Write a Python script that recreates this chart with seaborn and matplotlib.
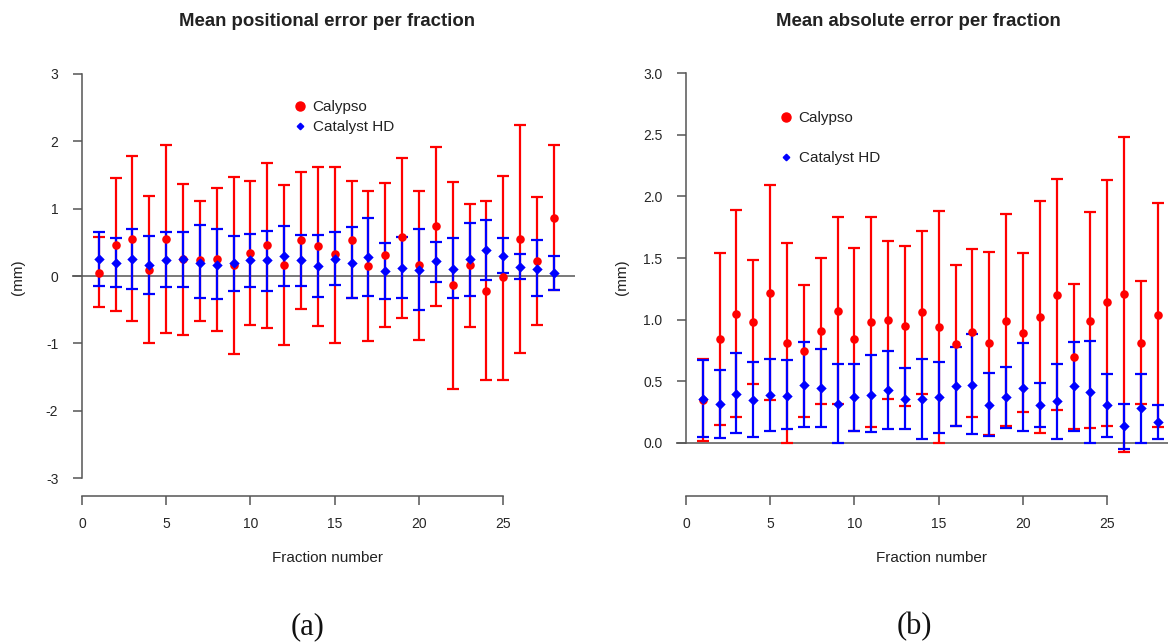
import numpy as np
import pandas as pd
import matplotlib
matplotlib.use("Agg")
import matplotlib.pyplot as plt
from matplotlib.lines import Line2D
import seaborn as sns

# ---------------- data ----------------
fractions = list(range(1, 29))
devices = ["Calypso", "Catalyst HD"]

# (a) mean positional error per fraction (mm)
cal_mean_a = [0.05, 0.46, 0.55, 0.09, 0.55, 0.25, 0.23, 0.245, 0.16, 0.34, 0.46, 0.17, 0.53, 0.44,
              0.32, 0.54, 0.15, 0.31, 0.58, 0.16, 0.74, -0.14, 0.16, -0.22, -0.02, 0.55, 0.22, 0.86]
cal_hi_a = [0.58, 1.45, 1.78, 1.19, 1.95, 1.37, 1.12, 1.30, 1.47, 1.41, 1.68, 1.35, 1.55, 1.61,
            1.61, 1.41, 1.26, 1.38, 1.75, 1.26, 1.91, 1.40, 1.07, 1.11, 1.49, 2.24, 1.17, 1.95]
cal_lo_a = [-0.46, -0.52, -0.67, -1.00, -0.84, -0.87, -0.67, -0.81, -1.15, -0.73, -0.77, -1.02, -0.49, -0.74,
            -0.99, -0.32, -0.97, -0.75, -0.63, -0.95, -0.44, -1.68, -0.76, -1.55, -1.55, -1.14, -0.73, -0.21]
cat_mean_a = [0.245, 0.20, 0.25, 0.16, 0.24, 0.245, 0.20, 0.17, 0.19, 0.23, 0.23, 0.29, 0.23, 0.15,
              0.25, 0.20, 0.28, 0.07, 0.12, 0.09, 0.22, 0.11, 0.25, 0.38, 0.30, 0.14, 0.11, 0.05]
cat_hi_a = [0.65, 0.57, 0.70, 0.60, 0.66, 0.65, 0.75, 0.69, 0.60, 0.62, 0.67, 0.74, 0.61, 0.61,
            0.65, 0.73, 0.86, 0.49, 0.58, 0.69, 0.51, 0.56, 0.79, 0.83, 0.56, 0.32, 0.53, 0.30]
cat_lo_a = [-0.15, -0.16, -0.20, -0.26, -0.17, -0.16, -0.33, -0.34, -0.22, -0.16, -0.22, -0.15, -0.15, -0.31,
            -0.13, -0.32, -0.29, -0.34, -0.32, -0.50, -0.09, -0.33, -0.29, -0.06, 0.04, -0.04, -0.29, -0.21]

# (b) mean absolute error per fraction (mm)
cal_mean_b = [0.35, 0.845, 1.05, 0.98, 1.22, 0.81, 0.75, 0.91, 1.07, 0.84, 0.98, 1.00, 0.95, 1.06,
              0.94, 0.80, 0.90, 0.81, 0.99, 0.89, 1.02, 1.20, 0.70, 0.99, 1.14, 1.21, 0.81, 1.04]
cal_hi_b = [0.68, 1.54, 1.89, 1.48, 2.09, 1.62, 1.28, 1.50, 1.83, 1.58, 1.83, 1.64, 1.60, 1.72,
            1.88, 1.44, 1.57, 1.55, 1.86, 1.54, 1.96, 2.14, 1.29, 1.875, 2.13, 2.48, 1.31, 1.95]
cal_lo_b = [0.02, 0.15, 0.21, 0.48, 0.35, 0.00, 0.21, 0.32, 0.32, 0.095, 0.13, 0.36, 0.30, 0.40,
            0.00, 0.14, 0.21, 0.065, 0.135, 0.25, 0.08, 0.27, 0.11, 0.12, 0.14, -0.07, 0.315, 0.13]
cat_mean_b = [0.36, 0.315, 0.40, 0.35, 0.39, 0.38, 0.47, 0.45, 0.315, 0.37, 0.39, 0.43, 0.36, 0.36,
              0.37, 0.46, 0.47, 0.31, 0.37, 0.45, 0.31, 0.34, 0.46, 0.41, 0.31, 0.135, 0.28, 0.17]
cat_hi_b = [0.67, 0.59, 0.73, 0.66, 0.68, 0.67, 0.82, 0.76, 0.64, 0.64, 0.71, 0.75, 0.61, 0.68,
            0.66, 0.78, 0.88, 0.57, 0.62, 0.81, 0.49, 0.64, 0.82, 0.83, 0.56, 0.32, 0.56, 0.31]
cat_lo_b = [0.05, 0.04, 0.08, 0.05, 0.10, 0.11, 0.13, 0.13, 0.00, 0.10, 0.09, 0.11, 0.11, 0.035,
            0.08, 0.14, 0.07, 0.06, 0.12, 0.095, 0.13, 0.035, 0.095, 0.00, 0.05, -0.05, 0.00, 0.03]

titles = ["Mean positional error per fraction", "Mean absolute error per fraction"]
xlabel = "Fraction number"
ylabel = "(mm)"
captions = ["(a)", "(b)"]
xticks = [0, 5, 10, 15, 20, 25]
yticks_a = [-3, -2, -1, 0, 1, 2, 3]
yticks_b = [0.0, 0.5, 1.0, 1.5, 2.0, 2.5, 3.0]


def make_df(cm, chi, clo, km, khi, klo):
    rows = []
    for dev, m, hi, lo in [(devices[0], cm, chi, clo), (devices[1], km, khi, klo)]:
        for f, a, b, c in zip(fractions, m, hi, lo):
            rows.append({"fraction": f, "device": dev, "mean": a, "hi": b, "lo": c})
    return pd.DataFrame(rows)


df_a = make_df(cal_mean_a, cal_hi_a, cal_lo_a, cat_mean_a, cat_hi_a, cat_lo_a)
df_b = make_df(cal_mean_b, cal_hi_b, cal_lo_b, cat_mean_b, cat_hi_b, cat_lo_b)

# ---------------- style ----------------
sns.set_style("white")
plt.rcParams["font.family"] = ["Liberation Sans", "DejaVu Sans"]
TXT = "#222222"
AX = "#555555"
colors = {"Calypso": "#ff0000", "Catalyst HD": "#0000ff"}
markers = {"Calypso": "o", "Catalyst HD": "D"}
sizes = {"Calypso": 38, "Catalyst HD": 28}

W, H = 1168, 644
fig = plt.figure(figsize=(W / 100, H / 100), dpi=100)

ax_top_px, ax_bot_px = 55, 495


def px_axes(left_px, right_px):
    return fig.add_axes([left_px / W, (H - ax_bot_px) / H,
                         (right_px - left_px) / W, (ax_bot_px - ax_top_px) / H])


ax_a = px_axes(72, 575)
ax_b = px_axes(676, 1179)

# ylims so that ticks land on reference pixel rows
zero_a, unit_a = 276.0, 67.4
zero_b, unit_b = 443.0, 123.33
ylim_a = (-(ax_bot_px - zero_a) / unit_a, (zero_a - ax_top_px) / unit_a)
ylim_b = (-(ax_bot_px - zero_b) / unit_b, (zero_b - ax_top_px) / unit_b)


def draw(ax, df, ylim, yticks, ytlabels, spine_lo, spine_hi):
    ax.axhline(0, color=AX, lw=1.1, zorder=1)
    for dev in devices:
        d = df[df["device"] == dev]
        ax.errorbar(d["fraction"], d["mean"],
                    yerr=[d["mean"] - d["lo"], d["hi"] - d["mean"]],
                    fmt="none", ecolor=colors[dev], elinewidth=1.6,
                    capsize=4.3, capthick=1.6, zorder=2)
        sns.scatterplot(data=d, x="fraction", y="mean", ax=ax, color=colors[dev],
                        marker=markers[dev], s=sizes[dev], linewidth=0,
                        legend=False, zorder=3)
    ax.set_xlim(-0.59, 29.26)
    ax.set_ylim(*ylim)
    ax.set_xlabel("")
    ax.set_ylabel("")
    ax.set_xticks(xticks)
    ax.set_xticklabels([str(t) for t in xticks], fontsize=11, color=TXT)
    ax.set_yticks(yticks)
    ax.set_yticklabels(ytlabels, fontsize=11, color=TXT, rotation=90, va="center")
    for s in ["top", "right"]:
        ax.spines[s].set_visible(False)
    ax.spines["left"].set_position(("data", 0))
    ax.spines["left"].set_bounds(spine_lo, spine_hi)
    ax.spines["bottom"].set_position(("outward", 1))
    ax.spines["bottom"].set_bounds(0, 25)
    for s in ["left", "bottom"]:
        ax.spines[s].set_color(AX)
        ax.spines[s].set_linewidth(1.1)
    ax.tick_params(axis="both", which="both", direction="out", length=6.5,
                   width=1.1, color=AX, left=True, bottom=True)
    ax.tick_params(axis="y", pad=10.5)
    ax.tick_params(axis="x", pad=8.6)
    ax.patch.set_alpha(0)


draw(ax_a, df_a, ylim_a, yticks_a, [str(t) for t in yticks_a], -3, 3)
draw(ax_b, df_b, ylim_b, yticks_b, [f"{t:.1f}" for t in yticks_b], 0, 3)


def legend(ax, anchor, spacing):
    handles = [Line2D([], [], ls="none", marker="o", color=colors["Calypso"], markersize=6.5),
               Line2D([], [], ls="none", marker="D", color=colors["Catalyst HD"], markersize=3.3)]
    ax.legend(handles, devices, loc="upper left", bbox_to_anchor=anchor, frameon=False,
              fontsize=11, handlelength=1.0, handletextpad=0.35, borderpad=0,
              borderaxespad=0, labelspacing=spacing, labelcolor=TXT)


legend(ax_a, ((292 - 72) / 503, (495 - 100) / 440), 0.4)
legend(ax_b, ((778 - 676) / 503, (495 - 111) / 440), 1.72)


# titles, axis labels, captions placed at reference pixel positions
def ftxt(x, y, s, color=TXT, **kw):
    fig.text(x / W, 1 - y / H, s, ha="center", va="center", color=color, **kw)


ftxt(327, 21, titles[0], fontsize=13.4, fontweight="bold")
ftxt(918, 21, titles[1], fontsize=13.4, fontweight="bold")
ftxt(327, 558, xlabel, fontsize=11)
ftxt(932, 558, xlabel, fontsize=11)
ftxt(18, 277, ylabel, fontsize=11, rotation=90)
ftxt(622, 277, ylabel, fontsize=11, rotation=90)
ftxt(308, 627, captions[0], fontsize=22, family=["Liberation Serif", "DejaVu Serif"], color="#111111")
ftxt(914, 627, captions[1], fontsize=22, family=["Liberation Serif", "DejaVu Serif"], color="#111111")

fig.savefig("out.png", dpi=100, facecolor="white")
